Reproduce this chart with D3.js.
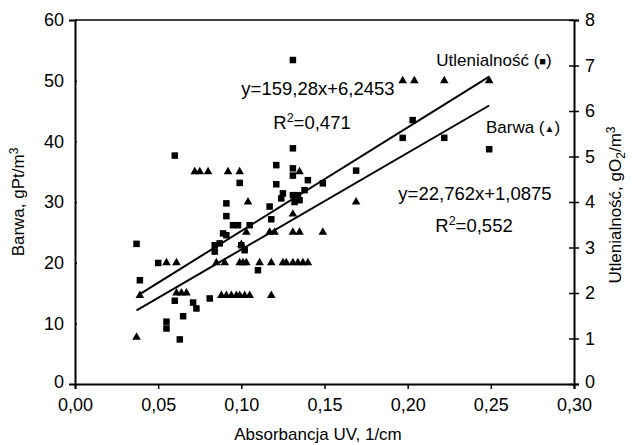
<!DOCTYPE html>
<html><head><meta charset="utf-8">
<script src="https://cdn.jsdelivr.net/npm/d3@7"></script>
<style>body{margin:0;background:#fff}svg{display:block}text{font-family:"Liberation Sans",Arial,sans-serif;fill:#000}</style>
</head><body><div id="chart"></div>
<script>
// Barwa (triangles, left axis)
const barwaX = [0.037,0.039,0.055,0.061,0.061,0.064,0.067,0.072,0.075,0.080,0.092,0.099,0.088,0.091,0.094,0.097,0.099,0.102,0.105,0.118,0.085,0.090,0.099,0.101,0.103,0.111,0.118,0.125,0.127,0.131,0.134,0.137,0.140,0.103,0.117,0.120,0.131,0.135,0.149,0.104,0.131,0.169,0.135,0.197,0.204,0.222,0.249,0.100];
const barwaY = [7.7,14.6,20,20,15,15,15,35,35,35,35,35,14.6,14.6,14.6,14.6,14.6,14.6,14.6,14.6,20,20,20,20,20,20,20,20,20,20,20,20,20,25,25,25,25,25,25,30,28,30,35,50,50,50,50,23];
// Utlenialność (squares, right axis)
const utlX = [0.037,0.039,0.050,0.055,0.055,0.060,0.060,0.063,0.065,0.071,0.073,0.081,0.084,0.084,0.087,0.089,0.091,0.091,0.091,0.095,0.098,0.099,0.100,0.102,0.105,0.110,0.117,0.118,0.121,0.121,0.125,0.124,0.131,0.131,0.131,0.131,0.134,0.132,0.135,0.138,0.140,0.149,0.169,0.197,0.203,0.222,0.249,0.131];
const utlY = [3.08,2.28,2.66,1.37,1.22,1.83,5.02,0.98,1.49,1.79,1.66,1.88,3.05,2.91,3.09,3.31,3.27,3.69,3.97,3.49,3.49,4.42,3.05,2.94,3.49,2.5,3.9,3.62,4.81,4.39,4.19,4.08,5.18,4.74,4.58,4.15,4.15,4.0,4.04,4.26,4.48,4.41,4.69,5.41,5.80,5.41,5.16,7.12];
// trend lines: [slope, intercept, xStart, xEnd]
const barwaTrend = [159.28, 6.2453, 0.037, 0.249];
const utlTrend = [22.762, 1.0875, 0.039, 0.249];
const xTicks = [0,0.05,0.10,0.15,0.20,0.25,0.30];
const leftTicks = [0,10,20,30,40,50,60];
const rightTicks = [0,1,2,3,4,5,6,7,8];

const W=632,H=445;
const svg=d3.select("#chart").append("svg").attr("width",W).attr("height",H);
const L=75,R=574,T=20,B=384;
const x=d3.scaleLinear().domain([0,0.30]).range([L,R]);
const yL=d3.scaleLinear().domain([0,60]).range([B,T]);
const yR=d3.scaleLinear().domain([0,8]).range([B,T]);
const fmt=d=>d3.format(".2f")(d).replace(".",",");
const fs="17px", tfs="18px", efs="18.5px";

const gx=svg.append("g").attr("transform",`translate(0,${B})`)
  .call(d3.axisBottom(x).tickValues(xTicks).tickFormat(fmt).tickSize(5).tickPadding(9));
const gl=svg.append("g").attr("transform",`translate(${L},0)`)
  .call(d3.axisLeft(yL).tickValues(leftTicks).tickSize(6).tickPadding(5));
const gr=svg.append("g").attr("transform",`translate(${R},0)`)
  .call(d3.axisRight(yR).tickValues(rightTicks).tickSize(5).tickPadding(6));
gr.selectAll(".tick line").attr("x1",-5);
gl.selectAll(".tick line").attr("x2",2);
[gx,gl,gr].forEach(g=>{
  g.select(".domain").attr("stroke","#000").attr("stroke-width",2);
  g.selectAll(".tick line").attr("stroke","#000").attr("stroke-width",1.5);
  g.selectAll(".tick text").style("font-size",tfs).attr("fill","#000").style("font-family",'"Liberation Sans",Arial,sans-serif');
});
// lift the "0" labels on the y axes slightly so they clear the x labels
gl.selectAll(".tick").filter(d=>d===0).select("text").attr("dy","0.2em");
gr.selectAll(".tick").filter(d=>d===0).select("text").attr("dy","0.2em");
svg.append("line").attr("x1",L).attr("x2",R).attr("y1",T).attr("y2",T).attr("stroke","#000").attr("stroke-width",1.5);

// trend lines
svg.append("line").attr("x1",x(barwaTrend[2])).attr("y1",yL(barwaTrend[0]*barwaTrend[2]+barwaTrend[1]))
  .attr("x2",x(barwaTrend[3])).attr("y2",yL(barwaTrend[0]*barwaTrend[3]+barwaTrend[1]))
  .attr("stroke","#000").attr("stroke-width",2);
svg.append("line").attr("x1",x(utlTrend[2])).attr("y1",yR(utlTrend[0]*utlTrend[2]+utlTrend[1]))
  .attr("x2",x(utlTrend[3])).attr("y2",yR(utlTrend[0]*utlTrend[3]+utlTrend[1]))
  .attr("stroke","#000").attr("stroke-width",2);

// markers
const tri=d3.symbol().type(d3.symbolTriangle).size(32);
svg.append("g").selectAll("path").data(barwaX).join("path")
  .attr("d",tri).attr("transform",(d,i)=>`translate(${x(d)},${yL(barwaY[i])})`).attr("fill","#000");
svg.append("g").selectAll("rect").data(utlX).join("rect")
  .attr("x",d=>x(d)-3.25).attr("y",(d,i)=>yR(utlY[i])-3.25).attr("width",6.5).attr("height",6.5).attr("fill","#000");

// annotations
const ann=(t,xx,yy,size)=>svg.append("text").attr("x",xx).attr("y",yy).attr("text-anchor","middle").style("font-size",size).text(t);
ann("y=159,28x+6,2453",318,95,efs);
const r1=svg.append("text").attr("x",312).attr("y",129).attr("text-anchor","middle").style("font-size",efs);
r1.append("tspan").text("R");r1.append("tspan").attr("dy",-7).style("font-size","12.5px").text("2");r1.append("tspan").attr("dy",7).text("=0,471");
const u=svg.append("text").attr("x",494).attr("y",66).attr("text-anchor","middle").style("font-size",fs);
u.append("tspan").text("Utlenialność (");u.append("tspan").style("font-size","11px").attr("dy",-1).text("■");u.append("tspan").attr("dy",1).text(")");
const bw=svg.append("text").attr("x",523).attr("y",133).attr("text-anchor","middle").style("font-size",fs);
bw.append("tspan").text("Barwa (");bw.append("tspan").style("font-size","10px").attr("dy",-1).text("▲");bw.append("tspan").attr("dy",1).text(")");
ann("y=22,762x+1,0875",475,200,efs);
const r2=svg.append("text").attr("x",474).attr("y",232).attr("text-anchor","middle").style("font-size",efs);
r2.append("tspan").text("R");r2.append("tspan").attr("dy",-7).style("font-size","12.5px").text("2");r2.append("tspan").attr("dy",7).text("=0,552");

// axis titles
svg.append("text").attr("x",318).attr("y",440).attr("text-anchor","middle").style("font-size",fs).text("Absorbancja UV, 1/cm");
const lt=svg.append("text").attr("transform","translate(24,202) rotate(-90)").attr("text-anchor","middle").style("font-size",fs);
lt.append("tspan").text("Barwa, gPt/m");lt.append("tspan").attr("dy",-6).style("font-size","12px").text("3");
const rt=svg.append("text").attr("transform","translate(621,205) rotate(-90)").attr("text-anchor","middle").style("font-size",fs);
rt.append("tspan").text("Utlenialność, gO");rt.append("tspan").attr("dy",4).style("font-size","12px").text("2");
rt.append("tspan").attr("dy",-4).text("/m");rt.append("tspan").attr("dy",-6).style("font-size","12px").text("3");
</script></body></html>
